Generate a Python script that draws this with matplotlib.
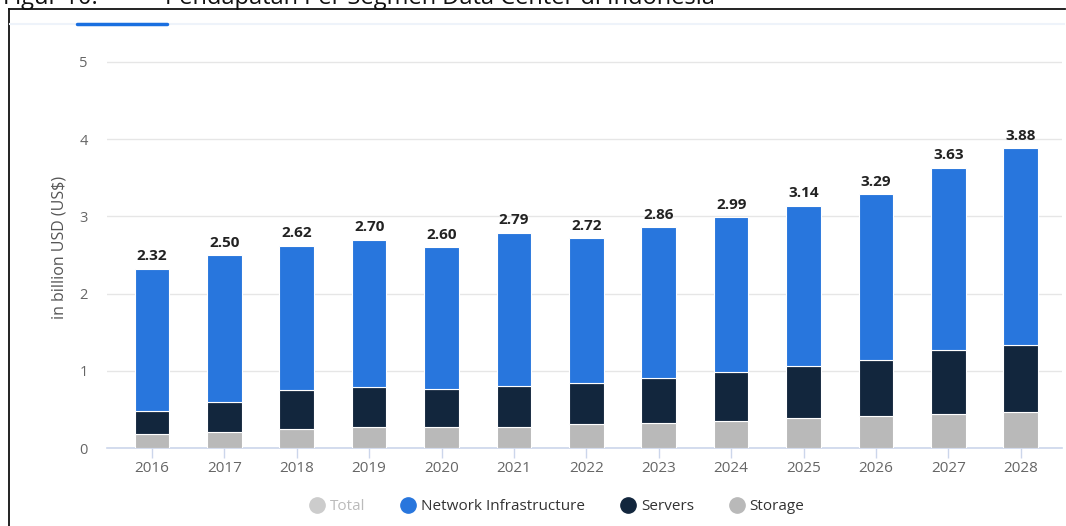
import matplotlib
matplotlib.use("Agg")
import matplotlib.pyplot as plt
from matplotlib.lines import Line2D
import numpy as np

plt.rcParams['font.family'] = ['Open Sans', 'DejaVu Sans']

years = ['2016', '2017', '2018', '2019', '2020', '2021', '2022',
         '2023', '2024', '2025', '2026', '2027', '2028']
totals = [2.32, 2.50, 2.62, 2.70, 2.60, 2.79, 2.72, 2.86, 2.99, 3.14, 3.29, 3.63, 3.88]
storage = [0.18, 0.21, 0.25, 0.27, 0.27, 0.27, 0.31, 0.32, 0.35, 0.39, 0.42, 0.44, 0.47]
servers = [0.30, 0.38, 0.50, 0.52, 0.50, 0.53, 0.53, 0.59, 0.63, 0.67, 0.72, 0.83, 0.87]
network = [1.84, 1.91, 1.87, 1.91, 1.83, 1.99, 1.88, 1.95, 2.01, 2.08, 2.15, 2.36, 2.54]
yticks = [0, 1, 2, 3, 4, 5]
legend_labels = ['Total', 'Network Infrastructure', 'Servers', 'Storage']

c_net = '#2876dd'
c_srv = '#12263d'
c_sto = '#b9b9b9'
c_tot = '#cccccc'

W, H = 1066, 526
fig = plt.figure(figsize=(W / 100, H / 100), dpi=100)

y0_px, y5_px = 448, 62
unit = (y0_px - y5_px) / 5
ytop = 5.2
ax_top_px = y0_px - ytop * unit
ax_left_px, ax_right_px = 107, 1062
ax = fig.add_axes([ax_left_px / W, (H - y0_px) / H,
                   (ax_right_px - ax_left_px) / W, (y0_px - ax_top_px) / H])

x = np.arange(len(years))
bw = 0.48
sto = np.array(storage)
srv = np.array(servers)
net = np.array(network)
ax.bar(x, sto, bw, color=c_sto, edgecolor='white', linewidth=0.8, zorder=3)
ax.bar(x, srv, bw, bottom=sto, color=c_srv, edgecolor='white', linewidth=0.8, zorder=3)
ax.bar(x, net, bw, bottom=sto + srv, color=c_net, edgecolor='white', linewidth=0.8, zorder=3)

for xi, t in zip(x, totals):
    ax.text(xi, t + 0.07, f'{t:.2f}', ha='center', va='bottom', fontsize=11,
            fontweight='bold', color='#222222', zorder=4)

ax.set_xlim(-0.62, len(years) - 1 + 0.57)
ax.set_ylim(0, ytop)
ax.set_yticks(yticks)
ax.set_xticks(x)
ax.set_xticklabels(years)
ax.grid(axis='y', color='#e6e6e6', linewidth=1, zorder=0)
for s in ['top', 'right', 'left']:
    ax.spines[s].set_visible(False)
ax.spines['bottom'].set_color('#ccd6eb')
ax.spines['bottom'].set_linewidth(1.2)
ax.tick_params(axis='x', colors='#ccd6eb', length=7, width=1, labelcolor='#666666',
               labelsize=11, pad=2)
ax.tick_params(axis='y', length=0, labelcolor='#666666', labelsize=10.5, pad=14)
ax.set_ylabel('in billion USD (US$)', color='#555555', fontsize=11.5, labelpad=8)

# legend
handles = [Line2D([], [], marker='o', linestyle='none', markersize=11, color=c)
           for c in [c_tot, c_net, c_srv, c_sto]]
leg = fig.legend(handles, legend_labels, loc='center', bbox_to_anchor=(556 / W, 1 - 507 / H),
                 ncol=4, frameon=False, fontsize=11, handletextpad=0.25,
                 columnspacing=2.2, handlelength=1.2)
for txt, col in zip(leg.get_texts(), ['#bbbbbb', '#333333', '#333333', '#333333']):
    txt.set_color(col)

# frame lines / decorations
fig.add_artist(Line2D([9 / W, 1 - 1 / W], [1 - 8.5 / H, 1 - 8.5 / H], color='#111111', linewidth=1.3))
fig.add_artist(Line2D([9 / W, 9 / W], [0, 1 - 8.5 / H], color='#111111', linewidth=1.3))
fig.add_artist(Line2D([10 / W, 1 - 2 / W], [1 - 24 / H, 1 - 24 / H], color='#eef3fa', linewidth=1.5))
fig.add_artist(Line2D([77 / W, 167 / W], [1 - 24 / H, 1 - 24 / H], color='#1a6fe0', linewidth=2.5,
                      solid_capstyle='round'))

# cut-off figure title (cropped in the reference too)
fig.text(3 / W, 1 - 4 / H, 'Figur 10.', fontsize=17, color='#111111', va='baseline', ha='left')
fig.text(165 / W, 1 - 4 / H, 'Pendapatan Per Segmen Data Center di Indonesia', fontsize=17,
         color='#111111', va='baseline', ha='left')

fig.savefig('out.png', dpi=100)
